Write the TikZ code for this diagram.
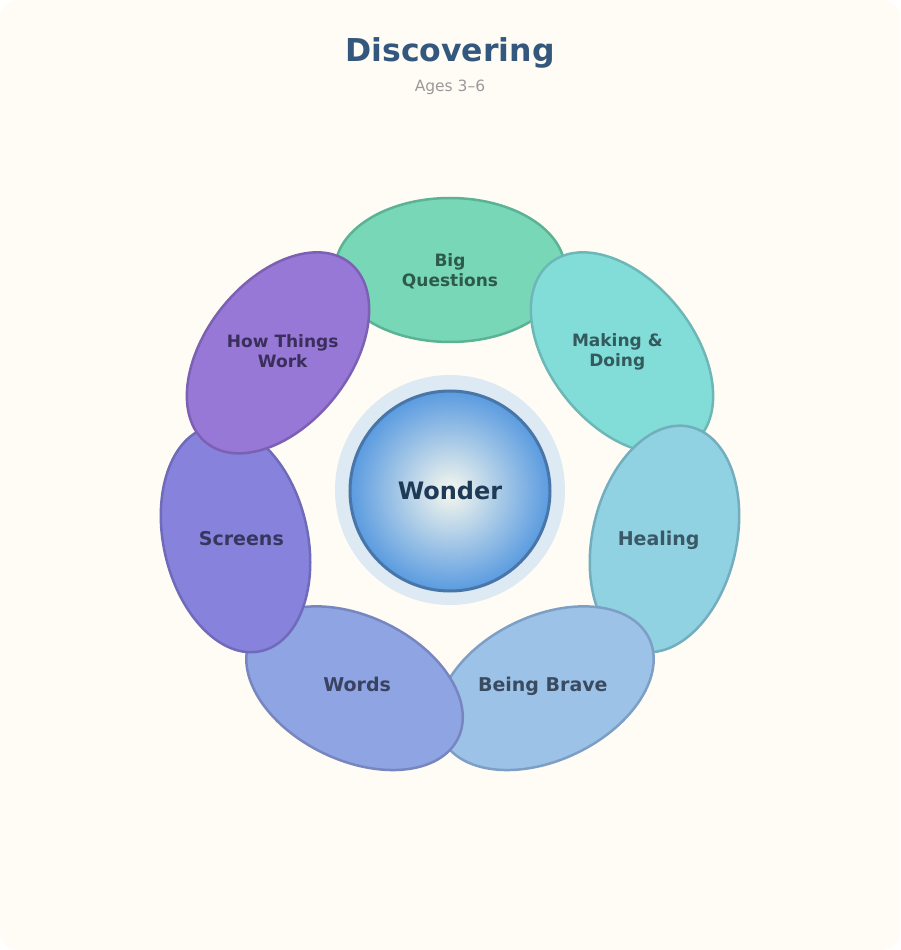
\documentclass[tikz,border=0pt]{standalone}
\usepackage{fontspec}
\setmainfont{DejaVu Sans}
\usepackage{xcolor}
\usepackage{tikz}
\usetikzlibrary{shapes.geometric, positioning}

\definecolor{paper}{HTML}{FFFCF5}
\definecolor{titleC}{HTML}{34587D}
\definecolor{subC}{HTML}{9A9A9A}
\definecolor{haloC}{HTML}{DDE9F3}
\definecolor{coreIn}{HTML}{F6F8EE}
\definecolor{coreOut}{HTML}{5A9BE0}
\definecolor{coreD}{HTML}{4876A8}
\definecolor{coreT}{HTML}{1E3A57}
% petal colours: fill, line, text
\definecolor{bqF}{HTML}{78D7B7}\definecolor{bqD}{HTML}{5BB395}\definecolor{bqT}{HTML}{2E5A4C}
\definecolor{mdF}{HTML}{82DDD8}\definecolor{mdD}{HTML}{6DB8B6}\definecolor{mdT}{HTML}{335A5C}
\definecolor{heF}{HTML}{90D1E2}\definecolor{heD}{HTML}{73AEBE}\definecolor{heT}{HTML}{3A5866}
\definecolor{bbF}{HTML}{9DC2E8}\definecolor{bbD}{HTML}{7D9FC5}\definecolor{bbT}{HTML}{3A4B60}
\definecolor{woF}{HTML}{8FA4E2}\definecolor{woD}{HTML}{7886C0}\definecolor{woT}{HTML}{3A4262}
\definecolor{scF}{HTML}{8783DC}\definecolor{scD}{HTML}{6F6BBA}\definecolor{scT}{HTML}{36365E}
\definecolor{hwF}{HTML}{9878D6}\definecolor{hwD}{HTML}{7C60B3}\definecolor{hwT}{HTML}{3A2E5A}

\begin{document}
\begin{tikzpicture}[
        x=1pt, y=1pt,
        petal/.style={ellipse, draw, line width=2.5pt, minimum width=230pt, minimum height=144pt, inner sep=0pt},
        tagone/.style={font={\fontsize{19}{23}\selectfont\bfseries}, align=center, inner sep=0pt, text depth=0pt, yshift=-1pt},
        tagtwo/.style={font={\fontsize{17}{20}\selectfont\bfseries}, align=center, inner sep=0pt, yshift=5pt},
        core/.style={circle, draw=coreD, line width=3pt, inner color=coreIn, outer color=coreOut, minimum size=200pt, text=coreT, font={\fontsize{24}{28}\selectfont\bfseries}}
    ]
        % Canvas
        \useasboundingbox (-450,-460) rectangle (450,490);
        \fill[paper, rounded corners=18pt] (-450,-460) rectangle (450,490);

        % Heading
        \node (title) at (0,428) [anchor=base, text=titleC, font={\fontsize{31.5}{36}\selectfont\bfseries}] {Discovering};
        \node (ages) at (0,398) [anchor=base, text=subC, font={\fontsize{15.5}{18}\selectfont}] {Ages 3–6};

        % Petals, clockwise from the top
        \foreach \i/\pid/\txt/\tagstyle in {0/bq/{Big\\Questions}/tagtwo, 1/md/{Making \&\\Doing}/tagtwo, 2/he/{Healing}/tagone, 3/bb/{Being Brave}/tagone, 4/wo/{Words}/tagone, 5/sc/{Screens}/tagone, 6/hw/{How Things\\Work}/tagtwo} {
            \pgfmathsetmacro\ang{90-\i*360/7}
            \node (p\pid) [petal, fill=\pid F, draw=\pid D, rotate=\ang-90] at (\ang:220) {};
            \node (l\pid) [\tagstyle, text=\pid T] at (\ang:214) {\txt};
        }

        % Centre
        \node (halo) [circle, fill=haloC, minimum size=230pt] at (0,0) {};
        \node (wonder) [core, yshift=-1pt] at (halo) {Wonder};

    \end{tikzpicture}
\end{document}
